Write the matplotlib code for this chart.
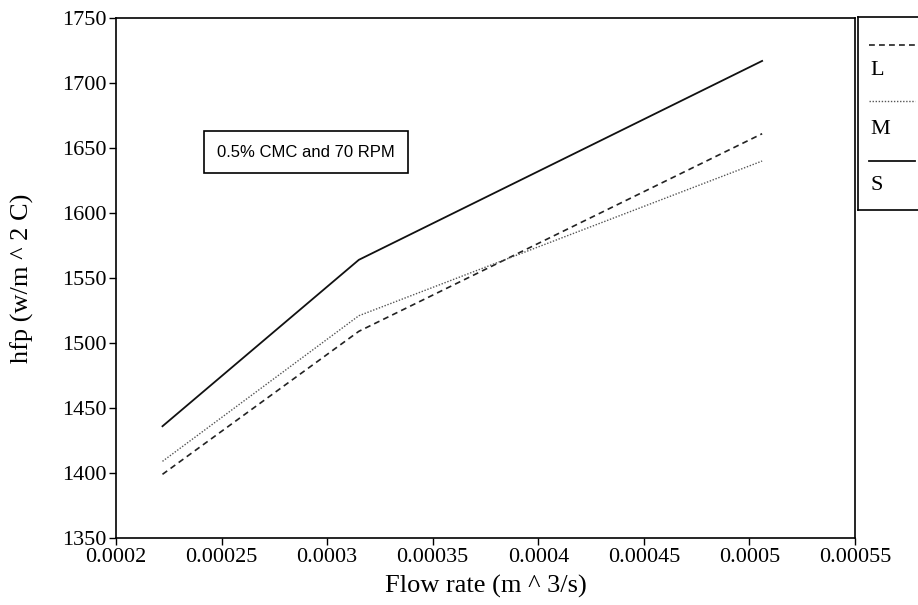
import numpy as np
import matplotlib
matplotlib.use("Agg")
import matplotlib.pyplot as plt

# flow rate (m^3/s) and hfp values
flow = [0.000222, 0.000315, 0.000506]
hfp_L = [1399, 1509, 1661]
hfp_M = [1409, 1521, 1640]
hfp_S = [1436, 1564, 1717]

series_names = ["L", "M", "S"]
x_ticks = [0.0002, 0.00025, 0.0003, 0.00035, 0.0004, 0.00045, 0.0005, 0.00055]
x_ticklabels = ["0.0002", "0.00025", "0.0003", "0.00035", "0.0004", "0.00045", "0.0005", "0.00055"]
y_ticks = [1350, 1400, 1450, 1500, 1550, 1600, 1650, 1700, 1750]

serif = ["Liberation Serif", "DejaVu Serif"]
plt.rcParams["font.family"] = serif

styles = {
    "L": dict(color="#222222", lw=1.2, linestyle=(0, (3.5, 2.5))),
    "M": dict(color="#555555", lw=1.0, linestyle=(0, (1, 1.2))),
    "S": dict(color="#111111", lw=1.3, linestyle="-"),
}

fig = plt.figure(figsize=(9.18, 6.05), dpi=100)
ax = fig.add_axes([0.1264, 0.1107, 0.8050, 0.8595])

for name, vals in zip(series_names, [hfp_L, hfp_M, hfp_S]):
    ax.plot(flow, vals, **styles[name])

ax.set_xlim(0.0002, 0.00055)
ax.set_ylim(1350, 1750)
ax.set_xticks(x_ticks)
ax.set_xticklabels(x_ticklabels)
ax.set_yticks(y_ticks)
ax.tick_params(direction="out", length=5, width=1, labelsize=16, pad=2)
for s in ax.spines.values():
    s.set_linewidth(1.2)

ax.set_xlabel("Flow rate (m ^ 3/s)", fontsize=19, labelpad=6)
ax.set_ylabel("hfp (w/m ^ 2 C)", fontsize=19, labelpad=20)

ax.text(0.257, 0.742, "0.5% CMC and 70 RPM", transform=ax.transAxes,
        ha="center", va="center", fontsize=12, family=["Liberation Sans", "DejaVu Sans"],
        bbox=dict(boxstyle="square,pad=0.8", fc="white", ec="black", lw=1.2))

# legend box on the right, partly cut off by the figure edge
lax = fig.add_axes([0.9346, 0.653, 0.10, 0.319])
lax.set_xlim(0, 1)
lax.set_ylim(0, 1)
lax.set_xticks([])
lax.set_yticks([])
for s in lax.spines.values():
    s.set_linewidth(1.2)
line_y = [0.855, 0.565, 0.254]
label_y = [0.725, 0.415, 0.125]
for name, ly, ty in zip(series_names, line_y, label_y):
    lax.plot([0.12, 0.62], [ly, ly], **styles[name])
    lax.text(0.14, ty, name, fontsize=16, ha="left", va="center")

fig.savefig("out.png", dpi=100)
